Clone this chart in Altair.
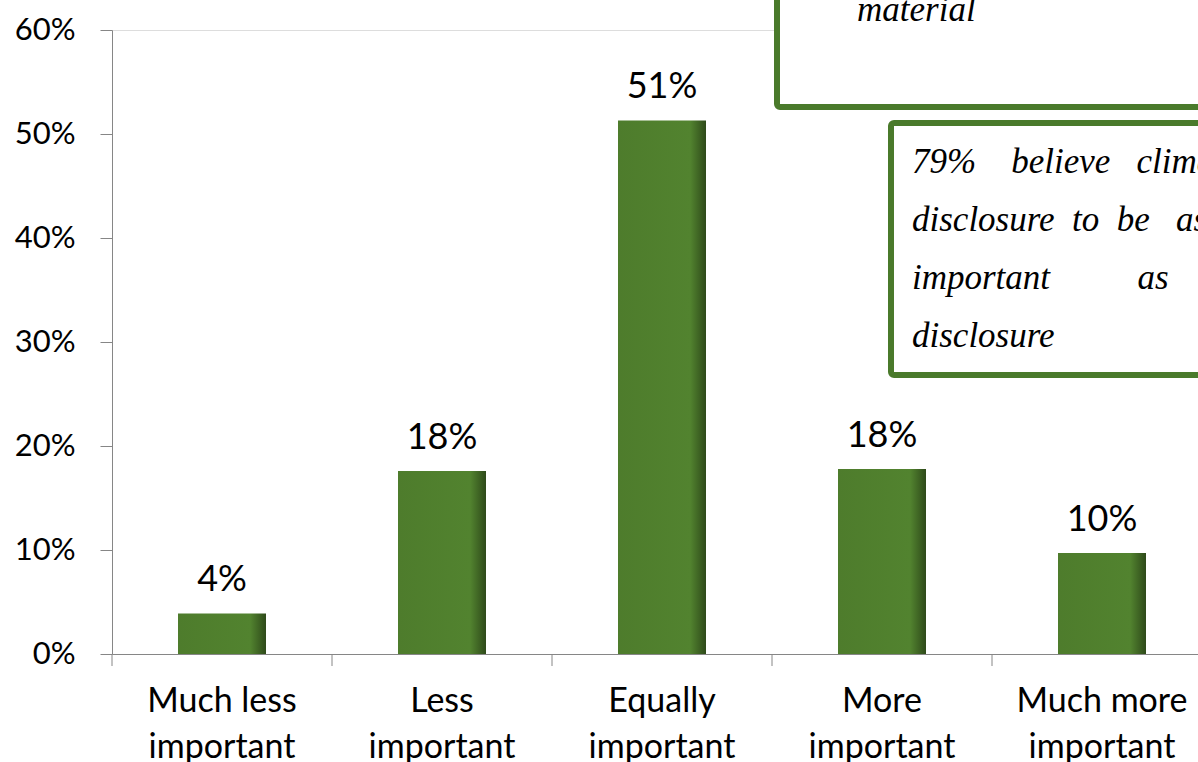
import altair as alt
import pandas as pd

categories = ["Much less important", "Less important", "Equally important",
              "More important", "Much more important"]
values = [0.039, 0.176, 0.513, 0.178, 0.097]

NB = "\u00a0"
box1_lines = ["material"]
box2_lines = [
    "79%" + NB * 4 + "believe" + NB * 3 + "climate",
    "disclosure" + NB * 2 + "to" + NB * 2 + "be" + NB * 3 + "as",
    "important" + NB * 10 + "as",
    "disclosure",
]

df = pd.DataFrame({"cat": categories, "val": values})

GREEN = "#4e7c2c"
AXIS = "#868686"
FONT = "Lato"
SERIF = "Liberation Serif"

xscale = alt.Scale(range=[0, 1100], paddingInner=0.6, paddingOuter=0.3)
yscale = alt.Scale(domain=[0, 0.6], nice=False)

x = alt.X("cat:N", sort=categories, title=None, scale=xscale,
          axis=alt.Axis(labelAngle=0, ticks=False, domainColor=AXIS,
                        labelFontSize=34, labelFont=FONT, labelColor="#000000",
                        labelPadding=30, labelLineHeight=46,
                        labelExpr="[slice(datum.label,0,lastindexof(datum.label,' ')), slice(datum.label,lastindexof(datum.label,' ')+1)]"))
y = alt.Y("val:Q", title=None, scale=yscale,
          axis=alt.Axis(format=".0%", values=[0, 0.1, 0.2, 0.3, 0.4, 0.5, 0.6], grid=False,
                        domainColor=AXIS, tickColor=AXIS, tickSize=12, labelFontSize=31,
                        labelFont=FONT, labelColor="#000000", labelPadding=25))

grad = alt.Gradient(gradient="linear", x1=0, x2=1, y1=0, y2=0,
                    stops=[alt.GradientStop(color=GREEN, offset=0),
                           alt.GradientStop(color="#52832f", offset=0.82),
                           alt.GradientStop(color="#2e4a1a", offset=1)])

bars = alt.Chart(df).mark_bar(color=grad, clip=True).encode(x=x, y=y)
labels = alt.Chart(df).mark_text(fontSize=36, font=FONT, dy=-22, baseline="alphabetic",
                                 color="#000000").encode(
    x=alt.X("cat:N", sort=categories, scale=xscale),
    y=alt.Y("val:Q", scale=yscale, axis=None),
    text=alt.Text("val:Q", format=".0%"))
xticks = alt.Chart(df).mark_rule(color=AXIS, strokeWidth=1, xOffset=-66).encode(
    x=alt.X("cat:N", sort=categories, scale=xscale, bandPosition=0),
    y=alt.value(624), y2=alt.value(636))

box1 = alt.Chart(pd.DataFrame({"t": [0]})).mark_rect(
    fill="white", stroke="#4a7a2b", strokeWidth=6, cornerRadius=3, clip=False).encode(
    x=alt.value(665), x2=alt.value(1200), y=alt.value(-60), y2=alt.value(77))
box2 = alt.Chart(pd.DataFrame({"t": [0]})).mark_rect(
    fill="white", stroke="#4a7a2b", strokeWidth=6, cornerRadius=3, clip=False).encode(
    x=alt.value(779), x2=alt.value(1200), y=alt.value(93), y2=alt.value(345))

box1_text = alt.Chart(pd.DataFrame({"line": box1_lines})).mark_text(
    font=SERIF, fontStyle="italic", fontSize=35, align="left", baseline="alphabetic",
    color="#000000").encode(x=alt.value(745), y=alt.value(-9), text="line:N")
box2_df = pd.DataFrame({"line": box2_lines, "i": list(range(len(box2_lines)))})
box2_text = alt.Chart(box2_df).mark_text(
    font=SERIF, fontStyle="italic", fontSize=35, align="left", baseline="alphabetic",
    color="#000000").encode(
    x=alt.value(800),
    y=alt.Y("i:Q", scale=alt.Scale(domain=[0, 3], range=[143, 317]), axis=None),
    text="line:N")

chart = alt.layer(bars, labels, xticks, box1, box2, box1_text, box2_text).resolve_scale(
    y="independent").properties(
    width=1086, height=624,
    autosize=alt.AutoSizeParams(type="none"),
    padding={"left": 112, "top": 30, "right": 0, "bottom": 108},
).configure_view(strokeWidth=0, stroke="transparent").configure(background="white")

chart.save("out.html", embed_options={"renderer": "svg", "actions": False})
